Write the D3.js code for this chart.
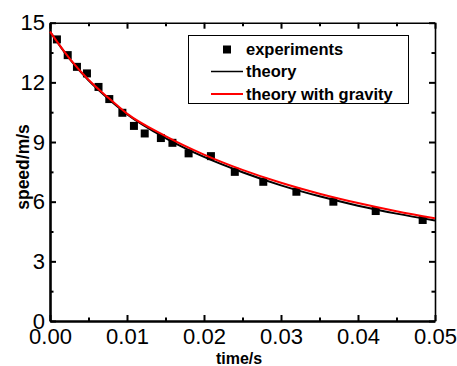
<!DOCTYPE html>
<html>
<head>
<meta charset="utf-8">
<script src="https://cdn.jsdelivr.net/npm/d3@7"></script>
<style>
  body { margin: 0; background: #fff; }
  text { font-family: "Liberation Sans", Arial, sans-serif; }
</style>
</head>
<body>
<svg id="chart" width="457" height="366"></svg>
<script>
// MARK: Data.

const expTime  = [0.0009, 0.0023, 0.0035, 0.0048, 0.0063, 0.0077, 0.0094, 0.0109, 0.0123, 0.0144,
                  0.0159, 0.0180, 0.0209, 0.0240, 0.0277, 0.0320, 0.0368, 0.0423, 0.0484]
const expSpeed = [14.16, 13.37, 12.78, 12.45, 11.77, 11.16, 10.47, 9.81, 9.43, 9.20,
                  8.96, 8.43, 8.29, 7.50, 7.00, 6.50, 6.00, 5.53, 5.08]

const curveTime     = [0, 0.0025, 0.005, 0.0075, 0.01, 0.015, 0.02, 0.025, 0.03, 0.035, 0.04, 0.045, 0.05]
const theorySpeed   = [14.55, 13.2, 12.1, 11.2, 10.4, 9.2, 8.25, 7.48, 6.82, 6.27, 5.8, 5.4, 5.05]
const gravitySpeed  = [14.55, 13.22, 12.13, 11.25, 10.43, 9.3, 8.37, 7.6, 6.95, 6.4, 5.93, 5.52, 5.16]

const xTicks      = [0, 0.01, 0.02, 0.03, 0.04, 0.05]
const xMinorTicks = [0.005, 0.015, 0.025, 0.035, 0.045]
const yTicks      = [0, 3, 6, 9, 12, 15]
const yMinorTicks = [1.5, 4.5, 7.5, 10.5, 13.5]

const legendItems = ['experiments', 'theory', 'theory with gravity']

// MARK: Layout.

const LEFT = 50, RIGHT = 435, TOP = 22.7, BOTTOM = 321

const svg = d3.select('#chart')
const x = d3.scaleLinear().domain([0, 0.05]).range([LEFT, RIGHT])
const y = d3.scaleLinear().domain([0, 15]).range([BOTTOM, TOP])

// Axes: ticks point inwards on all four sides.
function drawAxis(axis, transform, width, labels) {
  const g = svg.append('g').attr('transform', transform).call(axis)
  g.select('.domain').attr('stroke-width', width)
  g.selectAll('.tick line').attr('stroke-width', 2)
  if (labels) {
    g.selectAll('.tick text')
      .attr('font-size', 22)
      .attr('fill', '#000')
  }
  return g
}

drawAxis(d3.axisBottom(x).tickValues(xTicks).tickSize(-6).tickPadding(7)
  .tickFormat(d3.format('.2f')).tickSizeOuter(0), `translate(0,${BOTTOM})`, 2.6, true)
drawAxis(d3.axisBottom(x).tickValues(xMinorTicks).tickSize(-3.5).tickFormat('')
  .tickSizeOuter(0), `translate(0,${BOTTOM})`, 0, false)
drawAxis(d3.axisTop(x).tickValues(xTicks).tickSize(-6).tickFormat('')
  .tickSizeOuter(0), `translate(0,${TOP})`, 1.6, false)
drawAxis(d3.axisTop(x).tickValues(xMinorTicks).tickSize(-3.5).tickFormat('')
  .tickSizeOuter(0), `translate(0,${TOP})`, 0, false)

drawAxis(d3.axisLeft(y).tickValues(yTicks).tickSize(-6).tickPadding(5)
  .tickFormat(d3.format('d')).tickSizeOuter(0), `translate(${LEFT},0)`, 2.6, true)
drawAxis(d3.axisLeft(y).tickValues(yMinorTicks).tickSize(-3.5).tickFormat('')
  .tickSizeOuter(0), `translate(${LEFT},0)`, 0, false)
drawAxis(d3.axisRight(y).tickValues(yTicks).tickSize(-6).tickFormat('')
  .tickSizeOuter(0), `translate(${RIGHT},0)`, 1.6, false)
drawAxis(d3.axisRight(y).tickValues(yMinorTicks).tickSize(-3.5).tickFormat('')
  .tickSizeOuter(0), `translate(${RIGHT},0)`, 0, false)

// Axis titles.
svg.append('text')
  .attr('x', 239).attr('y', 364)
  .attr('text-anchor', 'middle')
  .attr('font-size', 16).attr('font-weight', 'bold')
  .text('time/s')
svg.append('text')
  .attr('transform', 'translate(29,167) rotate(-90)')
  .attr('text-anchor', 'middle')
  .attr('font-size', 17.5).attr('font-weight', 'bold')
  .text('speed/m/s')

// MARK: Marks.

const markerSize = 8
svg.append('g').selectAll('rect')
  .data(expTime.map((t, i) => ({ t, v: expSpeed[i] })))
  .enter().append('rect')
  .attr('x', (d) => x(d.t) - markerSize / 2)
  .attr('y', (d) => y(d.v) - markerSize / 2)
  .attr('width', markerSize)
  .attr('height', markerSize)
  .attr('fill', '#000')

const line = d3.line()
  .x((d) => x(d.t))
  .y((d) => y(d.v))
  .curve(d3.curveMonotoneX)

svg.append('path')
  .datum(curveTime.map((t, i) => ({ t, v: theorySpeed[i] })))
  .attr('d', line)
  .attr('fill', 'none')
  .attr('stroke', '#000')
  .attr('stroke-width', 2)

svg.append('path')
  .datum(curveTime.map((t, i) => ({ t, v: gravitySpeed[i] })))
  .attr('d', line)
  .attr('fill', 'none')
  .attr('stroke', '#f00')
  .attr('stroke-width', 2)

// MARK: Legend.

const legend = svg.append('g')
legend.append('rect')
  .attr('x', 188.5).attr('y', 35.5)
  .attr('width', 220).attr('height', 68)
  .attr('fill', '#fff')
  .attr('stroke', '#000')
  .attr('stroke-width', 1)

const rowY = [49.5, 71.5, 94]
legend.append('rect')
  .attr('x', 227 - markerSize / 2).attr('y', rowY[0] - markerSize / 2)
  .attr('width', markerSize).attr('height', markerSize)
  .attr('fill', '#000')
legend.append('line')
  .attr('x1', 211).attr('x2', 243).attr('y1', rowY[1]).attr('y2', rowY[1])
  .attr('stroke', '#000').attr('stroke-width', 1.5)
legend.append('line')
  .attr('x1', 211).attr('x2', 243).attr('y1', rowY[2]).attr('y2', rowY[2])
  .attr('stroke', '#f00').attr('stroke-width', 2)

legend.selectAll('text.label')
  .data(legendItems).enter().append('text')
  .attr('class', 'label')
  .attr('x', 246)
  .attr('y', (d, i) => rowY[i] + 5.5)
  .attr('font-size', 16.5)
  .attr('font-weight', 'bold')
  .text((d) => d)
</script>
</body>
</html>
